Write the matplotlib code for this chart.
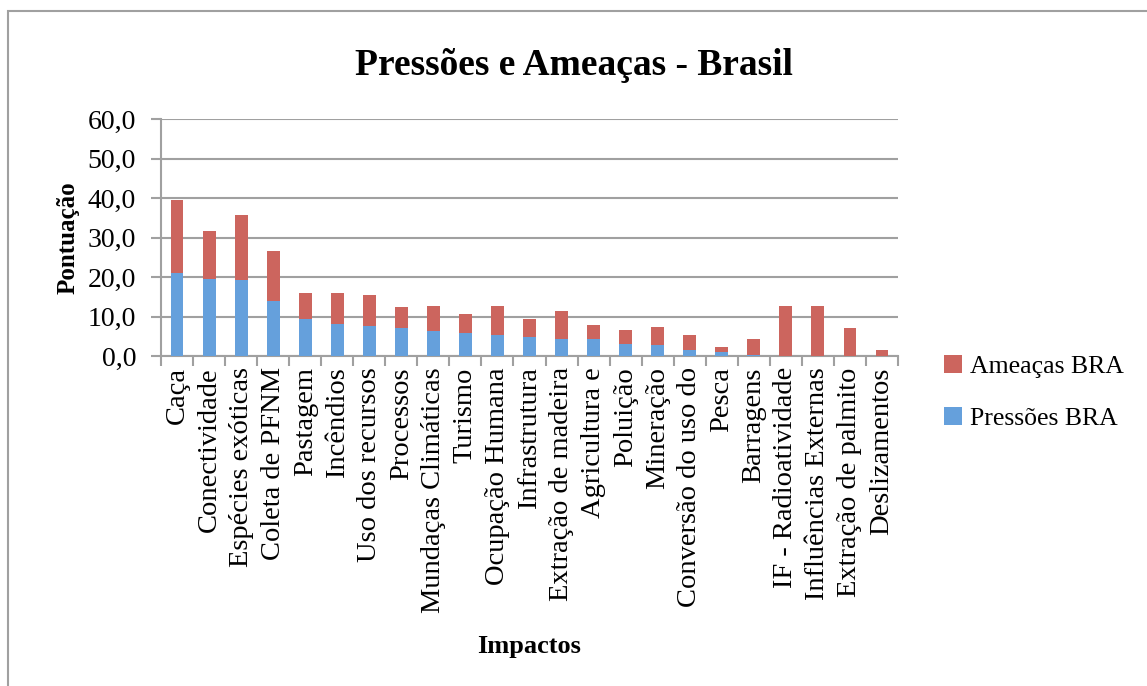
import matplotlib.pyplot as plt
import numpy as np
from matplotlib.patches import Rectangle

# data
categorias = ["Caça", "Conectividade", "Espécies exóticas", "Coleta de PFNM",
              "Pastagem", "Incêndios", "Uso dos recursos", "Processos",
              "Mundaças Climáticas", "Turismo", "Ocupação Humana", "Infrastrutura",
              "Extração de madeira", "Agricultura e", "Poluição", "Mineração",
              "Conversão do uso do", "Pesca", "Barragens", "IF - Radioatividade",
              "Influências Externas", "Extração de palmito", "Deslizamentos"]
pressoes = [20.9, 19.6, 19.3, 13.9, 9.5, 8.1, 7.6, 7.1, 6.4, 5.8, 5.4, 4.7,
            4.3, 4.3, 3.1, 2.7, 1.5, 1.1, 0.25, 0.0, 0.0, 0.0, 0.0]
totais = [39.5, 31.6, 35.6, 26.6, 15.9, 15.9, 15.4, 12.5, 12.6, 10.7, 12.6, 9.5,
          11.4, 7.9, 6.6, 7.4, 5.3, 2.2, 4.3, 12.6, 12.6, 7.1, 1.6]
ameacas = [t - p for t, p in zip(totais, pressoes)]

plt.rcParams['font.family'] = ['Liberation Serif', 'DejaVu Serif']

fig = plt.figure(figsize=(11.47, 6.86), dpi=100)
ax = fig.add_axes([0.1404, 0.481, 0.6425, 0.3455])

# outer frame of the chart
fig.patches.append(Rectangle((8/1147, -0.05), 1.1, 1 - 11/686 + 0.05,
                             transform=fig.transFigure, fill=False,
                             edgecolor='#a0a0a0', lw=1.5))

x = np.arange(len(categorias))
b1 = ax.bar(x, pressoes, width=0.4, color='#65a0dc', zorder=3)
b2 = ax.bar(x, ameacas, width=0.4, bottom=pressoes, color='#cc655e', zorder=3)

ax.set_xlim(-0.5, len(categorias) - 0.5)
ax.set_ylim(0, 60)
ax.set_yticks(np.arange(0, 61, 10))
ax.set_yticklabels([f"{v:.1f}".replace('.', ',') for v in np.arange(0, 61, 10)], fontsize=20)
ax.yaxis.grid(True, color='#a0a0a0', lw=1.5, zorder=0)

ax.set_xticks(x)
ax.set_xticklabels(categorias, rotation=90, fontsize=20.5)
ax.tick_params(axis='x', length=0, pad=8)
ax.set_xticks(np.arange(-0.5, len(categorias)), minor=True)
ax.tick_params(axis='x', which='minor', length=7, color='#a0a0a0', width=1.5)
ax.tick_params(axis='y', length=7, color='#a0a0a0', width=1.5, pad=11)

for s in ['top', 'right']:
    ax.spines[s].set_visible(False)
for s in ['left', 'bottom']:
    ax.spines[s].set_color('#a0a0a0')
    ax.spines[s].set_linewidth(1.5)

ax.set_ylabel('Pontuação', fontsize=18, fontweight='bold', labelpad=6)
ax.set_xlabel('Impactos', fontsize=19, fontweight='bold', labelpad=16)
fig.text(0.5, 0.905, 'Pressões e Ameaças - Brasil', ha='center', va='center',
         fontsize=27, fontweight='bold')

fig.legend([b2, b1], ['Ameaças BRA', 'Pressões BRA'], loc='center left',
           bbox_to_anchor=(0.803, 0.428), frameon=False, fontsize=18.5,
           handlelength=0.7, handleheight=0.7, handletextpad=0.3, labelspacing=1.1)

fig.savefig('out.png', dpi=100)
